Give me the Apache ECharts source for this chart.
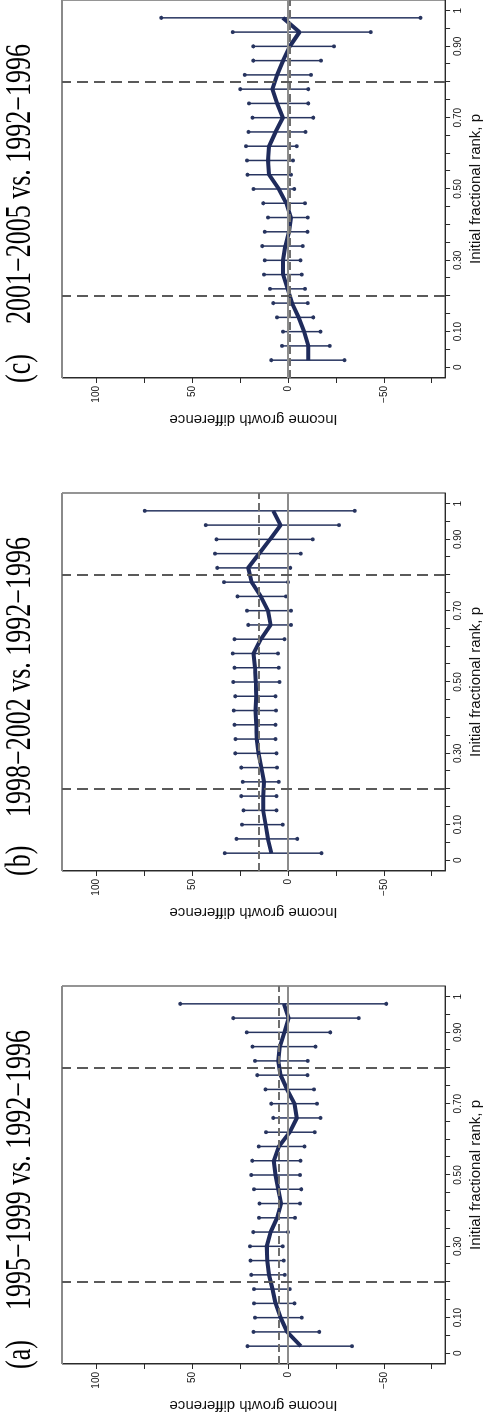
<!DOCTYPE html>
<html>
<head>
<meta charset="utf-8">
<script src="https://cdn.jsdelivr.net/npm/echarts@6/dist/echarts.min.js"></script>
<style>
html,body{margin:0;padding:0;background:#fff;overflow:hidden;width:488px;height:1420px;}
#rot{position:absolute;left:0;top:0;width:1420px;height:488px;transform-origin:0 0;transform:translate(0px,1420px) rotate(-90deg);}
#chart{width:1420px;height:488px;}
</style>
</head>
<body>
<div id="rot"><div id="chart"></div></div>
<script>
// ---- data ----
const pRank = [0.02,0.06,0.10,0.14,0.18,0.22,0.26,0.30,0.34,0.38,0.42,0.46,0.50,0.54,0.58,0.62,0.66,0.70,0.74,0.78,0.82,0.86,0.90,0.94,0.98];

const estA   = [-6.7,0.5,3.9,6.5,8.1,9.9,10.8,11.1,9.1,5.7,3.6,5.1,6.5,7.4,4.8,-0.9,-4.6,-3.4,0.5,3.9,5.1,4.3,1.9,-0.3,2.2];
const upperA = [21.1,18.0,17.3,17.7,17.7,19.2,19.6,19.9,18.2,15.1,14.9,17.7,19.2,18.7,15.3,11.5,7.7,8.7,11.8,16.1,17.3,18.5,21.6,28.6,56.3];
const lowerA = [-33.4,-16.3,-7.2,-3.4,-0.9,1.7,2.2,2.7,0.0,-3.6,-6.2,-6.9,-6.3,-6.5,-8.6,-13.9,-17.0,-15.1,-13.6,-10.1,-10.3,-14.4,-22.0,-36.9,-51.3];

const estB   = [8.7,10.5,11.7,13.0,12.9,12.5,13.9,15.4,16.3,16.6,17.0,16.6,16.8,17.3,18.0,14.2,9.1,10.5,14.2,19.0,20.8,15.1,9.4,3.9,7.7];
const upperB = [33.1,26.9,24.0,23.3,24.4,23.7,24.4,27.6,27.4,28.0,28.3,27.6,28.6,28.0,28.8,28.0,20.8,21.4,26.4,33.4,36.9,38.1,37.4,42.9,74.8];
const lowerB = [-17.5,-4.8,2.7,6.0,6.0,4.8,5.7,6.0,6.5,6.5,6.3,6.5,4.5,4.8,5.3,1.9,-1.5,-1.5,1.0,0.0,-1.2,-6.7,-12.9,-26.6,-34.8];

const estC   = [-10.6,-10.6,-8.4,-5.5,-2.1,0.2,2.6,2.6,1.4,-0.5,-1.5,0.9,4.8,9.9,10.5,9.9,6.5,2.7,5.7,8.2,5.7,2.6,-0.9,-6.0,2.7];
const upperC = [8.7,3.1,2.6,5.7,7.7,9.4,12.5,12.2,13.4,12.2,10.5,12.9,18.0,21.1,21.4,22.0,20.6,18.5,20.4,24.9,22.6,18.2,18.2,28.8,66.2];
const lowerC = [-29.5,-21.8,-17.0,-13.2,-10.3,-8.9,-7.2,-6.5,-7.7,-10.1,-10.3,-8.9,-3.3,-1.5,-2.6,-4.6,-9.1,-13.2,-10.6,-10.6,-12.0,-17.2,-24.0,-43.2,-69.1];

const meanLines = [5.1, 15.4, -0.8];
const cutoffs = [0.2, 0.8];

const panelLetters = ['(a)','(b)','(c)'];
const panelTitles = ['1995\u22121999 vs. 1992\u22121996','1998\u22122002 vs. 1992\u22121996','2001\u22122005 vs. 1992\u22121996'];

const xTickValues = [0,0.05,0.10,0.15,0.20,0.25,0.30,0.35,0.40,0.45,0.50,0.55,0.60,0.65,0.70,0.75,0.80,0.85,0.90,0.95,1];
const xLabelValues = [0,0.10,0.30,0.50,0.70,0.90,1];
const xLabelTexts = ['0','0.10','0.30','0.50','0.70','0.90','1'];
const yTickValues = [-75,-50,-25,0,25,50,75,100];
const yLabelValues = [-50,0,50,100];
const yLabelTexts = ['\u221250','0','50','100'];

const xName = 'Initial fractional rank, p';
const yName = 'Income growth difference';

// ---- layout ----
const gridLefts = [56, 549, 1042];
const gridW = 378, gridTop = 62, gridH = 388;
const navy = '#1f2b5c', barColor = '#27345f';
const serif = '"Liberation Serif", "Times New Roman", Times, serif';
const sans = '"Liberation Sans", Arial, Helvetica, sans-serif';

const panels = [
  {est: estA, up: upperA, lo: lowerA},
  {est: estB, up: upperB, lo: lowerB},
  {est: estC, up: upperC, lo: lowerC}
];

function fmtX(v){
  for (let i=0;i<xLabelValues.length;i++){ if (Math.abs(v-xLabelValues[i])<1e-6) return xLabelTexts[i]; }
  return '';
}
function fmtY(v){
  for (let i=0;i<yLabelValues.length;i++){ if (Math.abs(v-yLabelValues[i])<1e-6) return yLabelTexts[i]; }
  return '';
}

function renderBar(params, api){
  const p = api.value(0), lo = api.value(1), hi = api.value(2);
  const a = api.coord([p, lo]), b = api.coord([p, hi]);
  return {type:'group', children:[
    {type:'line', shape:{x1:a[0],y1:a[1],x2:b[0],y2:b[1]}, style:{stroke:barColor, lineWidth:1.5}},
    {type:'circle', shape:{cx:a[0],cy:a[1],r:2}, style:{fill:barColor}},
    {type:'circle', shape:{cx:b[0],cy:b[1],r:2}, style:{fill:barColor}}
  ]};
}

const grids = [], xAxes = [], yAxes = [], series = [], graphics = [];
panels.forEach((pn, i) => {
  grids.push({left: gridLefts[i], top: gridTop, width: gridW, height: gridH, show: true, borderColor: '#2a2a2a', borderWidth: 1, backgroundColor: '#fff'});
  xAxes.push({
    type: 'value', gridIndex: i, min: -0.03, max: 1.03,
    axisLine: {show: true, onZero: false, lineStyle: {color: '#2a2a2a', width: 1}},
    axisTick: {show: true, length: 5, customValues: xTickValues, lineStyle: {color: '#2a2a2a'}},
    axisLabel: {show: true, customValues: xLabelValues, formatter: fmtX, margin: 8, fontSize: 10, fontFamily: sans, color: '#111'},
    splitLine: {show: false},
    name: xName, nameLocation: 'middle', nameGap: 22,
    nameTextStyle: {fontSize: 15, fontFamily: sans, color: '#111'}
  });
  yAxes.push({
    type: 'value', gridIndex: i, min: -82, max: 118,
    axisLine: {show: true, onZero: false, lineStyle: {color: '#2a2a2a', width: 1}},
    axisTick: {show: true, length: 5, customValues: yTickValues, lineStyle: {color: '#2a2a2a'}},
    axisLabel: {show: true, customValues: yLabelValues, formatter: fmtY, margin: 8, fontSize: 10, fontFamily: sans, color: '#111'},
    splitLine: {show: false},
    name: yName, nameLocation: 'middle', nameGap: 34, nameRotate: 90,
    nameTextStyle: {fontSize: 15, fontFamily: sans, color: '#111'}
  });
  // reference lines
  series.push({
    type: 'line', xAxisIndex: i, yAxisIndex: i, data: [], silent: true, z: 1,
    markLine: {
      silent: true, symbol: ['none','none'], label: {show: false}, animation: false,
      data: [
        {yAxis: 118, lineStyle: {color: '#8a8a8a', width: 2, type: 'solid'}},
        {yAxis: 0, lineStyle: {color: '#8c8c8c', width: 2, type: 'solid'}},
        {yAxis: meanLines[i], lineStyle: {color: '#6e6e6e', width: 1.8, type: [8,4]}},
        {xAxis: cutoffs[0], lineStyle: {color: '#5a5a5a', width: 2, type: [11,6]}},
        {xAxis: cutoffs[1], lineStyle: {color: '#5a5a5a', width: 2, type: [11,6]}}
      ]
    }
  });
  series.push({
    type: 'custom', xAxisIndex: i, yAxisIndex: i, renderItem: renderBar, z: 3, animation: false,
    encode: {x: 0, y: [1, 2]},
    data: pRank.map((p, k) => [p, pn.lo[k], pn.up[k]])
  });
  series.push({
    type: 'line', xAxisIndex: i, yAxisIndex: i, z: 4, animation: false, showSymbol: false, symbol: 'none',
    lineStyle: {color: navy, width: 4},
    data: pRank.map((p, k) => [p, pn.est[k]])
  });
  graphics.push({
    type: 'text', x: gridLefts[i] - 5, y: 21, scaleY: 1.35,
    style: {text: panelLetters[i], fontSize: 26, fontFamily: serif, fill: '#000', align: 'left', verticalAlign: 'middle'}
  });
  graphics.push({
    type: 'text', x: gridLefts[i] + 54, y: 21, scaleY: 1.35,
    style: {text: panelTitles[i], fontSize: 26, fontFamily: serif, fill: '#000', align: 'left', verticalAlign: 'middle'}
  });
});

const chart = echarts.init(document.getElementById('chart'), null, {width: 1420, height: 488, renderer: 'canvas'});
chart.setOption({
  animation: false,
  backgroundColor: '#fff',
  grid: grids, xAxis: xAxes, yAxis: yAxes, series: series,
  graphic: graphics
});
</script>
</body>
</html>
